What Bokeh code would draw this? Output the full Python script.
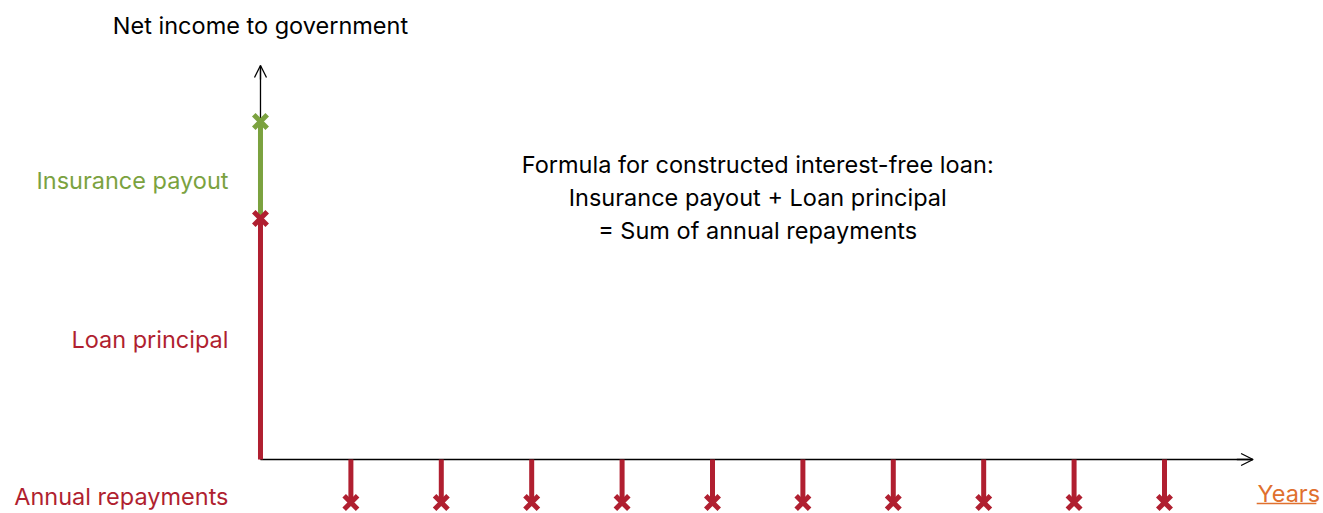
from bokeh.plotting import figure
from bokeh.models import Range1d, Arrow, OpenHead, Label, ColumnDataSource
from bokeh.embed import file_html
from bokeh.resources import INLINE

# ---- data ----
loan_principal = 2.41
insurance_payout = 0.97
repay_years = [1, 2, 3, 4, 5, 6, 7, 8, 9, 10]
repayments = [-0.43, -0.43, -0.43, -0.43, -0.43, -0.43, -0.43, -0.43, -0.43, -0.43]
y_axis_title = "Net income to government"
x_axis_title = "Years"
formula_lines = ["Formula for constructed interest-free loan:",
                 "Insurance payout + Loan principal",
                 "= Sum of annual repayments"]

RED = "#B01F30"
GREEN = "#7BA23F"
ORANGE = "#E0702E"
FONT = "Inter"

W, H = 1323, 513
p = figure(width=W, height=H, output_backend="svg", toolbar_location=None,
           x_range=Range1d(-2.876, 11.759), y_range=Range1d(-0.54, 4.59),
           min_border=0)
p.axis.visible = False
p.grid.visible = False
p.outline_line_color = None
p.background_fill_color = "white"

# axes lines (under bars) + arrow heads
p.segment(x0=[0, 0], y0=[0, 0], x1=[0, 10.98], y1=[3.94, 0], line_color="black", line_width=1.3)
p.add_layout(Arrow(end=OpenHead(size=12, line_width=1.3, line_color="black"),
                   x_start=0, y_start=3.8, x_end=0, y_end=3.94,
                   line_width=1.3, line_color="black"))
p.add_layout(Arrow(end=OpenHead(size=12, line_width=1.3, line_color="black"),
                   x_start=10.8, y_start=0, x_end=10.98, y_end=0,
                   line_width=1.3, line_color="black"))

# year-0 bars
top = loan_principal + insurance_payout
p.segment(x0=[0], y0=[loan_principal], x1=[0], y1=[top], line_color=GREEN, line_width=5)
p.segment(x0=[0], y0=[0], x1=[0], y1=[loan_principal], line_color=RED, line_width=5)
p.scatter(x=[0], y=[top], marker="x", size=19, line_width=5, line_color=GREEN)
p.scatter(x=[0], y=[loan_principal], marker="x", size=19, line_width=5, line_color=RED)

# repayments
src = ColumnDataSource(dict(x=repay_years, y=repayments, z=[0] * len(repay_years)))
p.segment(x0="x", y0="z", x1="x", y1="y", source=src, line_color=RED, line_width=5)
p.scatter(x="x", y="y", source=src, marker="x", size=19, line_width=5, line_color=RED)

fs = "23.5px"
# labels
p.add_layout(Label(x=0, y=4.34, text=y_axis_title, text_align="center",
                   text_baseline="middle", text_font=FONT, text_font_size=fs,
                   text_color="black"))
p.add_layout(Label(x=-0.354, y=loan_principal + insurance_payout / 2 - 0.1,
                   text="Insurance payout", text_align="right",
                   text_baseline="middle", text_font=FONT, text_font_size=fs,
                   text_color=GREEN))
p.add_layout(Label(x=-0.354, y=loan_principal / 2, text="Loan principal",
                   text_align="right", text_baseline="middle", text_font=FONT,
                   text_font_size=fs, text_color=RED))
p.add_layout(Label(x=-0.354, y=repayments[0] + 0.06, text="Annual repayments",
                   text_align="right", text_baseline="middle", text_font=FONT,
                   text_font_size=fs, text_color=RED))
p.add_layout(Label(x=11.03, y=-0.34, text=x_axis_title, text_align="left",
                   text_baseline="middle", text_font=FONT, text_font_size=fs,
                   text_color=ORANGE))
p.segment(x0=[11.02], y0=[-0.44], x1=[11.68], y1=[-0.44], line_color=ORANGE, line_width=1.5)

for i, line in enumerate(formula_lines):
    p.add_layout(Label(x=5.5, y=2.95 - 0.33 * i, text=line, text_align="center",
                       text_baseline="middle", text_font=FONT, text_font_size=fs,
                       text_color="black"))

open("out.html", "w").write(file_html(p, INLINE))
